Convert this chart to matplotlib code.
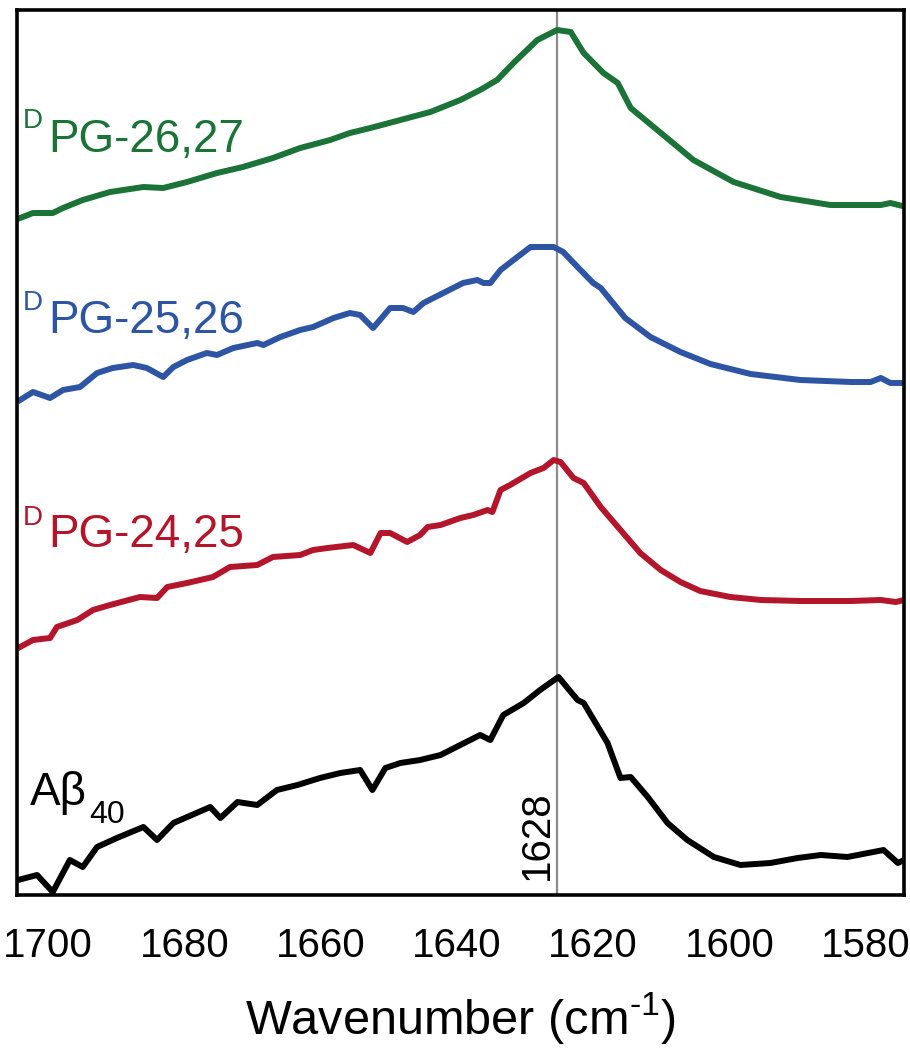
import matplotlib
matplotlib.use("Agg")
import matplotlib.pyplot as plt

plt.rcParams["font.family"] = ["Liberation Sans", "DejaVu Sans"]
plt.rcParams["mathtext.fontset"] = "custom"
plt.rcParams["mathtext.rm"] = "Liberation Sans"

# --- spectra (wavenumber in cm-1, offset absorbance in arbitrary units) ---
wn_ab40 = [1704.4, 1701.6, 1699.3, 1696.8, 1694.9, 1692.8, 1689.9, 1686.0, 1684.0,
           1681.6, 1676.2, 1674.7, 1672.2, 1669.3, 1666.4, 1663.4, 1660.1, 1657.1,
           1654.2, 1652.4, 1650.5, 1648.3, 1645.4, 1642.4, 1639.5, 1636.6, 1635.1,
           1633.2, 1630.2, 1627.8, 1625.1, 1622.3, 1621.4, 1617.9, 1616.0, 1614.5,
           1612.0, 1609.1, 1606.2, 1602.3, 1598.4, 1594.0, 1590.0, 1586.6, 1582.7,
           1577.4, 1575.3, 1574.4]
ab_ab40 = [15, 20, 3, 35, 28, 48, 57, 68, 55,
           72, 88, 77, 93, 90, 105, 110, 117, 122,
           125, 105, 127, 132, 135, 140, 150, 160, 155,
           180, 192, 205, 218, 195, 192, 152, 117, 118,
           98, 72, 55, 38, 30, 32, 37, 40, 38,
           45, 32, 35]

wn_pg2425 = [1704.1, 1702.2, 1699.7, 1698.7, 1695.7, 1693.4, 1690.9, 1686.5, 1684.0,
             1682.5, 1679.6, 1675.8, 1673.3, 1669.3, 1667.0, 1663.0, 1661.1, 1659.0,
             1655.2, 1652.7, 1651.2, 1649.8, 1647.3, 1645.4, 1644.3, 1642.4, 1639.5,
             1637.6, 1635.5, 1634.8, 1633.6, 1632.2, 1629.2, 1627.3, 1625.8, 1624.8,
             1622.9, 1621.4, 1618.9, 1616.0, 1613.1, 1610.1, 1607.2, 1604.3, 1599.9,
             1595.4, 1589.6, 1582.2, 1577.8, 1575.6, 1574.4]
ab_pg2425 = [248, 255, 257, 268, 275, 285, 290, 298, 297,
             308, 312, 318, 328, 330, 338, 340, 345, 347,
             350, 342, 362, 362, 353, 360, 368, 370, 377,
             380, 385, 383, 405, 410, 422, 427, 435, 433,
             417, 412, 388, 365, 342, 325, 313, 304, 298,
             295, 294, 294, 295, 293, 295]

wn_pg2526 = [1704.1, 1702.2, 1699.7, 1697.8, 1695.3, 1692.8, 1690.5, 1687.5, 1685.5,
             1683.1, 1681.6, 1679.6, 1676.7, 1675.2, 1672.8, 1669.3, 1668.4, 1665.9,
             1663.0, 1661.1, 1658.1, 1655.7, 1654.2, 1652.3, 1649.8, 1647.9, 1646.4,
             1644.9, 1642.0, 1639.1, 1637.0, 1636.1, 1635.1, 1633.6, 1631.7, 1629.2,
             1625.8, 1624.4, 1622.3, 1620.0, 1618.9, 1615.3, 1611.6, 1607.2, 1602.8,
             1596.9, 1589.6, 1582.2, 1579.3, 1577.8, 1576.4, 1574.4]
ab_pg2526 = [495, 503, 497, 505, 508, 522, 527, 530, 527,
             518, 528, 535, 542, 540, 547, 552, 550, 558,
             565, 568, 577, 582, 580, 567, 587, 587, 583,
             592, 602, 612, 615, 612, 612, 625, 635, 648,
             648, 643, 628, 612, 607, 577, 558, 543, 531,
             521, 515, 513, 513, 517, 512, 512]

wn_pg2627 = [1704.1, 1702.2, 1699.3, 1697.8, 1694.9, 1690.9, 1686.0, 1683.1, 1679.6,
             1675.2, 1671.4, 1667.0, 1663.0, 1658.6, 1655.7, 1652.7, 1648.3, 1643.9,
             1639.5, 1636.6, 1634.1, 1631.7, 1628.2, 1625.3, 1623.3, 1621.4, 1618.5,
             1616.4, 1614.5, 1610.6, 1605.3, 1599.4, 1592.5, 1585.2, 1577.8, 1576.4,
             1574.6]
ab_pg2627 = [677, 682, 682, 687, 695, 703, 708, 707, 713,
             722, 728, 737, 747, 755, 762, 767, 775, 783,
             795, 805, 815, 832, 855, 865, 863, 842, 822,
             812, 787, 765, 735, 713, 698, 690, 690, 692,
             689]

peak_pos = 1625.3
peak_label = "1628"
xticks = [1700, 1680, 1660, 1640, 1620, 1600, 1580]

GREEN = "#1b7337"
BLUE = "#2e55a3"
RED = "#b3152b"

W, H = 910, 1050
fig = plt.figure(figsize=(W / 100, H / 100), dpi=100)
ax = fig.add_axes([17 / W, 1 - 895 / H, 887 / W, 885 / H])

ax.plot(wn_ab40, ab_ab40, color="black", lw=4.3, solid_joinstyle="round")
ax.plot(wn_pg2425, ab_pg2425, color=RED, lw=4.3, solid_joinstyle="round")
ax.plot(wn_pg2526, ab_pg2526, color=BLUE, lw=4.3, solid_joinstyle="round")
ax.plot(wn_pg2627, ab_pg2627, color=GREEN, lw=4.3, solid_joinstyle="round")

ax.axvline(peak_pos, color="#8a8a8a", lw=1.6, zorder=0)
ax.text(peak_pos + 0.2, 15, peak_label, rotation=90, ha="right", va="bottom",
        fontsize=29)

ax.set_xlim(1704.55, 1574.4)
ax.set_ylim(0, 885)
ax.set_xticks(xticks)
ax.set_yticks([])
ax.tick_params(axis="x", length=0, pad=23, labelsize=29)
ax.set_xlabel(r"Wavenumber (cm$^{\text{-1}}$)", fontsize=35, labelpad=18)
for sp in ax.spines.values():
    sp.set_linewidth(2.6)

# curve labels (superscript D drawn as its own small text)
def fx(px):
    return px / W

def fy(py):
    return 1 - py / H

for (ybase, ysup, txt, col) in [(152, 128, "PG-26,27", GREEN),
                                (333, 310, "PG-25,26", BLUE),
                                (547, 525, "PG-24,25", RED)]:
    fig.text(fx(23), fy(ysup), "D", color=col, fontsize=20, va="baseline")
    fig.text(fx(48), fy(ybase), txt, color=col, fontsize=33, va="baseline")

fig.text(fx(30), fy(805), "Aβ", color="black", fontsize=33, va="baseline")
fig.text(fx(89), fy(823), "40", color="black", fontsize=23, va="baseline")

fig.savefig("out.png", dpi=100)
